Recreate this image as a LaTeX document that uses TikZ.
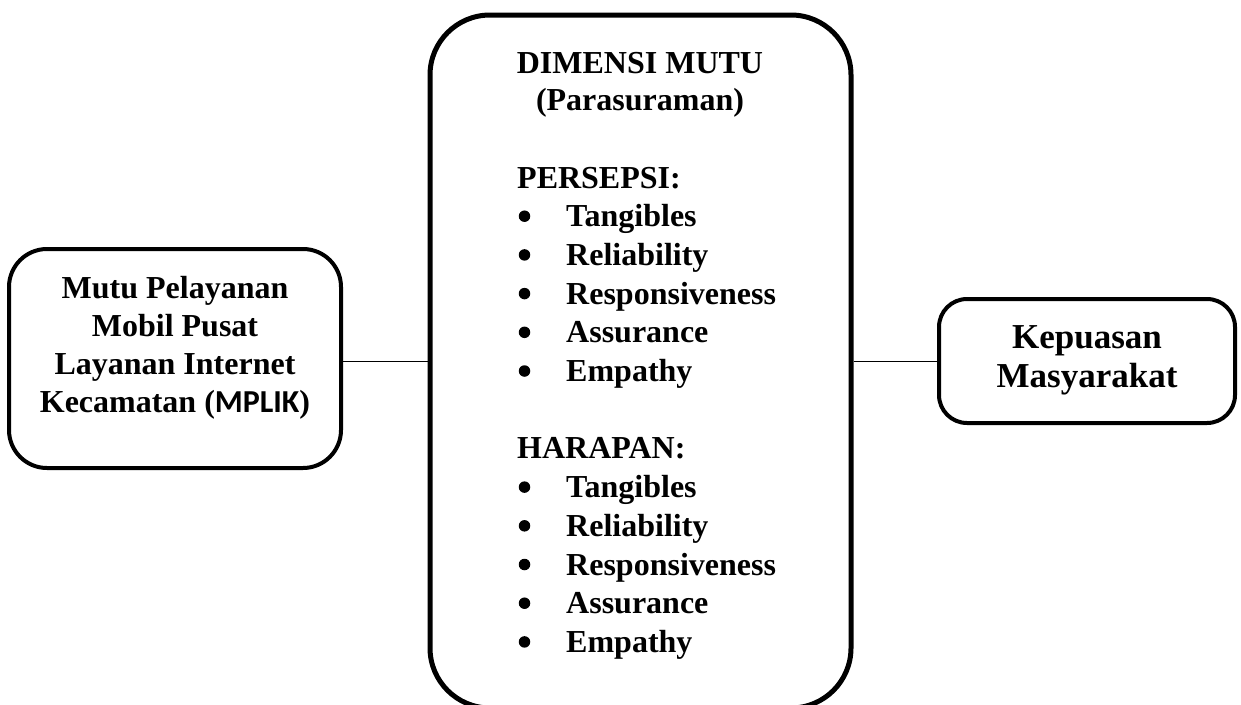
\documentclass[tikz,border=0pt]{standalone}
\usepackage{fontspec}
\setmainfont{Liberation Serif}
\newfontfamily\sansbold{Carlito}

\tikzset{
  box/.style={draw, line width=4pt, inner sep=0pt},
  link/.style={line width=1.5pt},
  txt/.style={font=\fontsize{32}{37.5}\selectfont\bfseries, inner sep=0pt},
  bigtxt/.style={font=\fontsize{35}{39}\selectfont\bfseries, inner sep=0pt},
  dot/.style={circle, fill, inner sep=0pt, minimum size=11.5pt},
}

\begin{document}
\begin{tikzpicture}[x=1pt, y=-1pt]
  \useasboundingbox (0,0) rectangle (1241,704);
  \clip (0,0) rectangle (1241,704);

  % the three boxes
  \node[box, rounded corners=38pt, minimum width=332pt, minimum height=219pt] (src) at (175,358.5) {};
  \node[box, line width=5pt, rounded corners=60pt, minimum width=421pt, minimum height=693pt] (mid) at (640.5,361.5) {};
  \node[box, rounded corners=28pt, minimum width=296pt, minimum height=124pt] (dst) at (1087,361) {};

  % connectors
  \draw[link] (src.east |- mid.west) -- (mid.west);
  \draw[link] (mid.east) -- (mid.east -| dst.west);

  % left box text
  \node[txt, anchor=base] (s1) at (175,298) {Mutu Pelayanan};
  \node[txt, anchor=base] (s2) at (175,336) {Mobil Pusat};
  \node[txt, anchor=base] (s3) at (175,374) {Layanan Internet};
  \node[txt, anchor=base] (s4) at (175,412) {Kecamatan ({\sansbold MPLIK})};

  % right box text
  \node[bigtxt, anchor=base] (d1) at (1087,348) {Kepuasan};
  \node[bigtxt, anchor=base] (d2) at (1087,387) {Masyarakat};

  % middle box headings
  \node[txt, anchor=base] (m1) at (640,73) {DIMENSI MUTU};
  \node[txt, anchor=base] (m2) at (640,110) {(Parasuraman)};

  % perception and expectation lists
  \node[txt, anchor=base west] (ph) at (517,188) {PERSEPSI:};
  \node[txt, anchor=base west] (hh) at (517,458.9) {HARAPAN:};
  \foreach \name [count=\i] in {Tangibles,Reliability,Responsiveness,Assurance,Empathy}{
    \pgfmathsetmacro{\yp}{188+38.7*\i}
    \pgfmathsetmacro{\yh}{458.9+38.7*\i}
    \node[dot] (pb\i) at (524.5,\yp-10.5) {};
    \node[txt, anchor=base west] (pi\i) at (566,\yp) {\name};
    \node[dot] (hb\i) at (524.5,\yh-10.5) {};
    \node[txt, anchor=base west] (hi\i) at (566,\yh) {\name};
  }
\end{tikzpicture}
\end{document}
